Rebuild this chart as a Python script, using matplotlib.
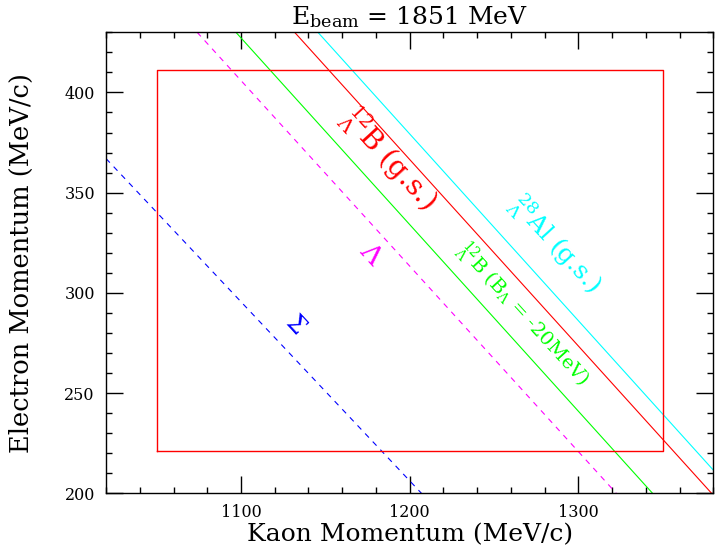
import matplotlib
matplotlib.use("Agg")
import matplotlib.pyplot as plt
from matplotlib.ticker import MultipleLocator

plt.rcParams['font.family'] = ['DejaVu Serif']
plt.rcParams['mathtext.fontset'] = 'dejavuserif'

# Kinematic lines: (kaon momentum, electron momentum) end points
al28_gs_k = [1145.6, 1380.0]
al28_gs_e = [430.0, 211.6]
b12_gs_k = [1131.8, 1379.0]
b12_gs_e = [430.0, 200.0]
b12_20_k = [1097.0, 1344.0]
b12_20_e = [430.0, 200.0]
lambda_k = [1074.0, 1322.5]
lambda_e = [430.0, 200.0]
sigma_k = [1020.0, 1207.0]
sigma_e = [367.0, 200.0]

# Acceptance box
box_k = [1050, 1350]
box_e = [221, 411]

xlim = (1020, 1380)
ylim = (200, 430)

fig = plt.figure(figsize=(7.15, 5.51), dpi=100)
ax = fig.add_axes([0.1483, 0.1047, 0.9976 - 0.1483, 0.9414 - 0.1047])

ax.plot(al28_gs_k, al28_gs_e, color='#00ffff', lw=0.8)
ax.plot(b12_gs_k, b12_gs_e, color='#ff0000', lw=0.8)
ax.plot(b12_20_k, b12_20_e, color='#00ff00', lw=0.8)
ax.plot(lambda_k, lambda_e, color='#ff00ff', lw=0.8, dashes=(5, 5))
ax.plot(sigma_k, sigma_e, color='#0000ff', lw=0.8, dashes=(5, 5))

ax.plot([box_k[0], box_k[1], box_k[1], box_k[0], box_k[0]],
        [box_e[0], box_e[0], box_e[1], box_e[1], box_e[0]],
        color='#ff0000', lw=1.0)

ax.set_xlim(*xlim)
ax.set_ylim(*ylim)

ax.xaxis.set_major_locator(MultipleLocator(100))
ax.xaxis.set_minor_locator(MultipleLocator(20))
ax.yaxis.set_major_locator(MultipleLocator(50))
ax.yaxis.set_minor_locator(MultipleLocator(10))
ax.tick_params(which='both', direction='in', top=True, right=True, width=1.0)
ax.tick_params(which='major', length=12, labelsize=11.5, pad=8)
ax.tick_params(which='minor', length=4.5)
for s in ax.spines.values():
    s.set_linewidth(1.0)

ax.set_xlabel('Kaon Momentum (MeV/c)', fontsize=18, labelpad=1)
ax.set_ylabel('Electron Momentum (MeV/c)', fontsize=18.5, labelpad=22)
ax.set_title(r'E$_{\mathrm{beam}}$ = 1851 MeV', fontsize=18, pad=6)

rot = -47.5
ax.text(1188, 367, r'${}^{12}_{\Lambda}$B (g.s.)', color='#ff0000', fontsize=20,
        rotation=rot, ha='center', va='center', rotation_mode='anchor')
ax.text(1286, 324, r'${}^{28}_{\Lambda}$Al (g.s.)', color='#00ffff', fontsize=18,
        rotation=rot, ha='center', va='center', rotation_mode='anchor')
ax.text(1267, 289, r'${}^{12}_{\Lambda}$B (B$_{\Lambda}$ = -20MeV)', color='#00ff00', fontsize=14,
        rotation=rot, ha='center', va='center', rotation_mode='anchor')
ax.text(1177, 319, r'$\Lambda$', color='#ff00ff', fontsize=19,
        rotation=rot, ha='center', va='center', rotation_mode='anchor')
ax.text(1132, 284, r'$\Sigma$', color='#0000ff', fontsize=17,
        rotation=rot, ha='center', va='center', rotation_mode='anchor')

fig.savefig('out.png', dpi=100)
